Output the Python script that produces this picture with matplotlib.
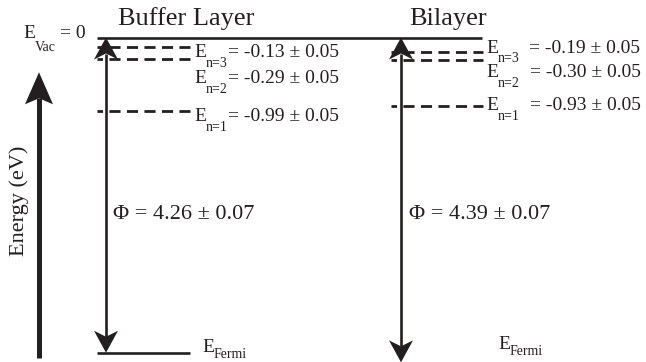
import matplotlib
matplotlib.use('Agg')
import matplotlib.pyplot as plt
from matplotlib.patches import Polygon

# values (eV)
layers = ['Buffer Layer', 'Bilayer']
work_function = [4.26, 4.39]
wf_err = [0.07, 0.07]
level_names = ['n=3', 'n=2', 'n=1']
buffer_levels = [-0.13, -0.29, -0.99]
bilayer_levels = [-0.19, -0.30, -0.93]
level_err = 0.05

INK = '#231f20'
plt.rcParams['font.family'] = ['Liberation Serif', 'DejaVu Serif']
plt.rcParams['lines.scale_dashes'] = False

W, H = 646, 362
K = 74.0          # px per eV
VAC_PX = 37.5     # where the vacuum level sits
top = VAC_PX / K
bottom = top - H / K


def px(d):
    return d / K


fig = plt.figure(figsize=(W / 100, H / 100), dpi=100)
ax = fig.add_axes([0, 0, 1, 1])
ax.set_xlim(0, W)
ax.set_ylim(bottom, top)
ax.axis('off')


def arrow_head(x, tip, direction, w, length, notch):
    back = tip - direction * px(length)
    mid = tip - direction * px(length - notch)
    ax.add_patch(Polygon([(x, tip), (x - w / 2, back), (x, mid), (x + w / 2, back)],
                         closed=True, facecolor=INK, edgecolor='none', zorder=4))
    return mid


def e_label(x, y, sub, rest='', size=14, sub_size=10, sub_dy=3, gap=0):
    t0 = ax.text(x, y, 'E', fontsize=size, va='baseline', ha='left', color=INK)
    t1 = ax.annotate(sub, xy=(1, 0), xycoords=t0, xytext=(0, sub_dy),
                     textcoords='offset points', fontsize=sub_size,
                     va='top', ha='left', color=INK)
    if rest:
        ax.annotate(rest, xy=(1, 0), xycoords=(t1, t0), xytext=(gap, 0),
                    textcoords='offset points', fontsize=size,
                    va='bottom', ha='left', color=INK)


# layout of each column
arrow_x = [106, 401]
dash_x = [(97, 190), (391, 483)]
label_x = [194, 486]
label_off = [[10, 24, 10], [1, 17, 4]]   # baseline below level, px
label_gap = [0, 7]
phi_x = [113, 409]
fermi_x = [202, 498]
fermi_base = [352, 349]
title_x = [186, 448]

# vacuum level
ax.plot([97, 482], [0, 0], color=INK, lw=1.9, solid_capstyle='butt')
e_label(23, -px(0.5), 'Vac', '= 0', sub_dy=1, gap=3)

# energy axis arrow
ax_bot, ax_tip = -4.33, -0.47
m = arrow_head(39, ax_tip, 1, 28, 32, 6)
ax.plot([39, 39], [ax_bot, m], color=INK, lw=3.6, solid_capstyle='butt')
ax.text(19, top - px(201), 'Energy (eV)', rotation=90, fontsize=16,
        ha='center', va='center', color=INK)

for i, levels in enumerate([buffer_levels, bilayer_levels]):
    x = arrow_x[i]
    phi = work_function[i]
    # work function arrow
    m1 = arrow_head(x, 0, 1, 24, 22, 6)
    m2 = arrow_head(x, -phi, -1, 24, 22, 6)
    ax.plot([x, x], [m2, m1], color=INK, lw=1.9, solid_capstyle='butt')
    ax.text(phi_x[i], top - px(219), '\u03A6 = %.2f \u00B1 %.2f' % (phi, wf_err[i]),
            fontsize=16, va='baseline', ha='left', color=INK)
    # image-potential levels
    for j, e in enumerate(levels):
        ax.plot(dash_x[i], [e, e], color=INK, lw=2.0,
                linestyle=(4, (8.0, 4.6)), dash_capstyle='butt', zorder=2)
        e_label(label_x[i], e - px(label_off[i][j]), level_names[j],
                '= %.2f \u00B1 %.2f' % (e, level_err), gap=label_gap[i])
    # Fermi level
    e_label(fermi_x[i], top - px(fermi_base[i]), 'Fermi', sub_dy=6)
    ax.text(title_x[i], top - px(25), layers[i], fontsize=19,
            ha='center', va='baseline', color=INK)

# Fermi level line (buffer layer only)
ax.plot([97, 190], [-work_function[0], -work_function[0]], color=INK, lw=1.9,
        solid_capstyle='butt')

fig.savefig('out.png', dpi=100)
